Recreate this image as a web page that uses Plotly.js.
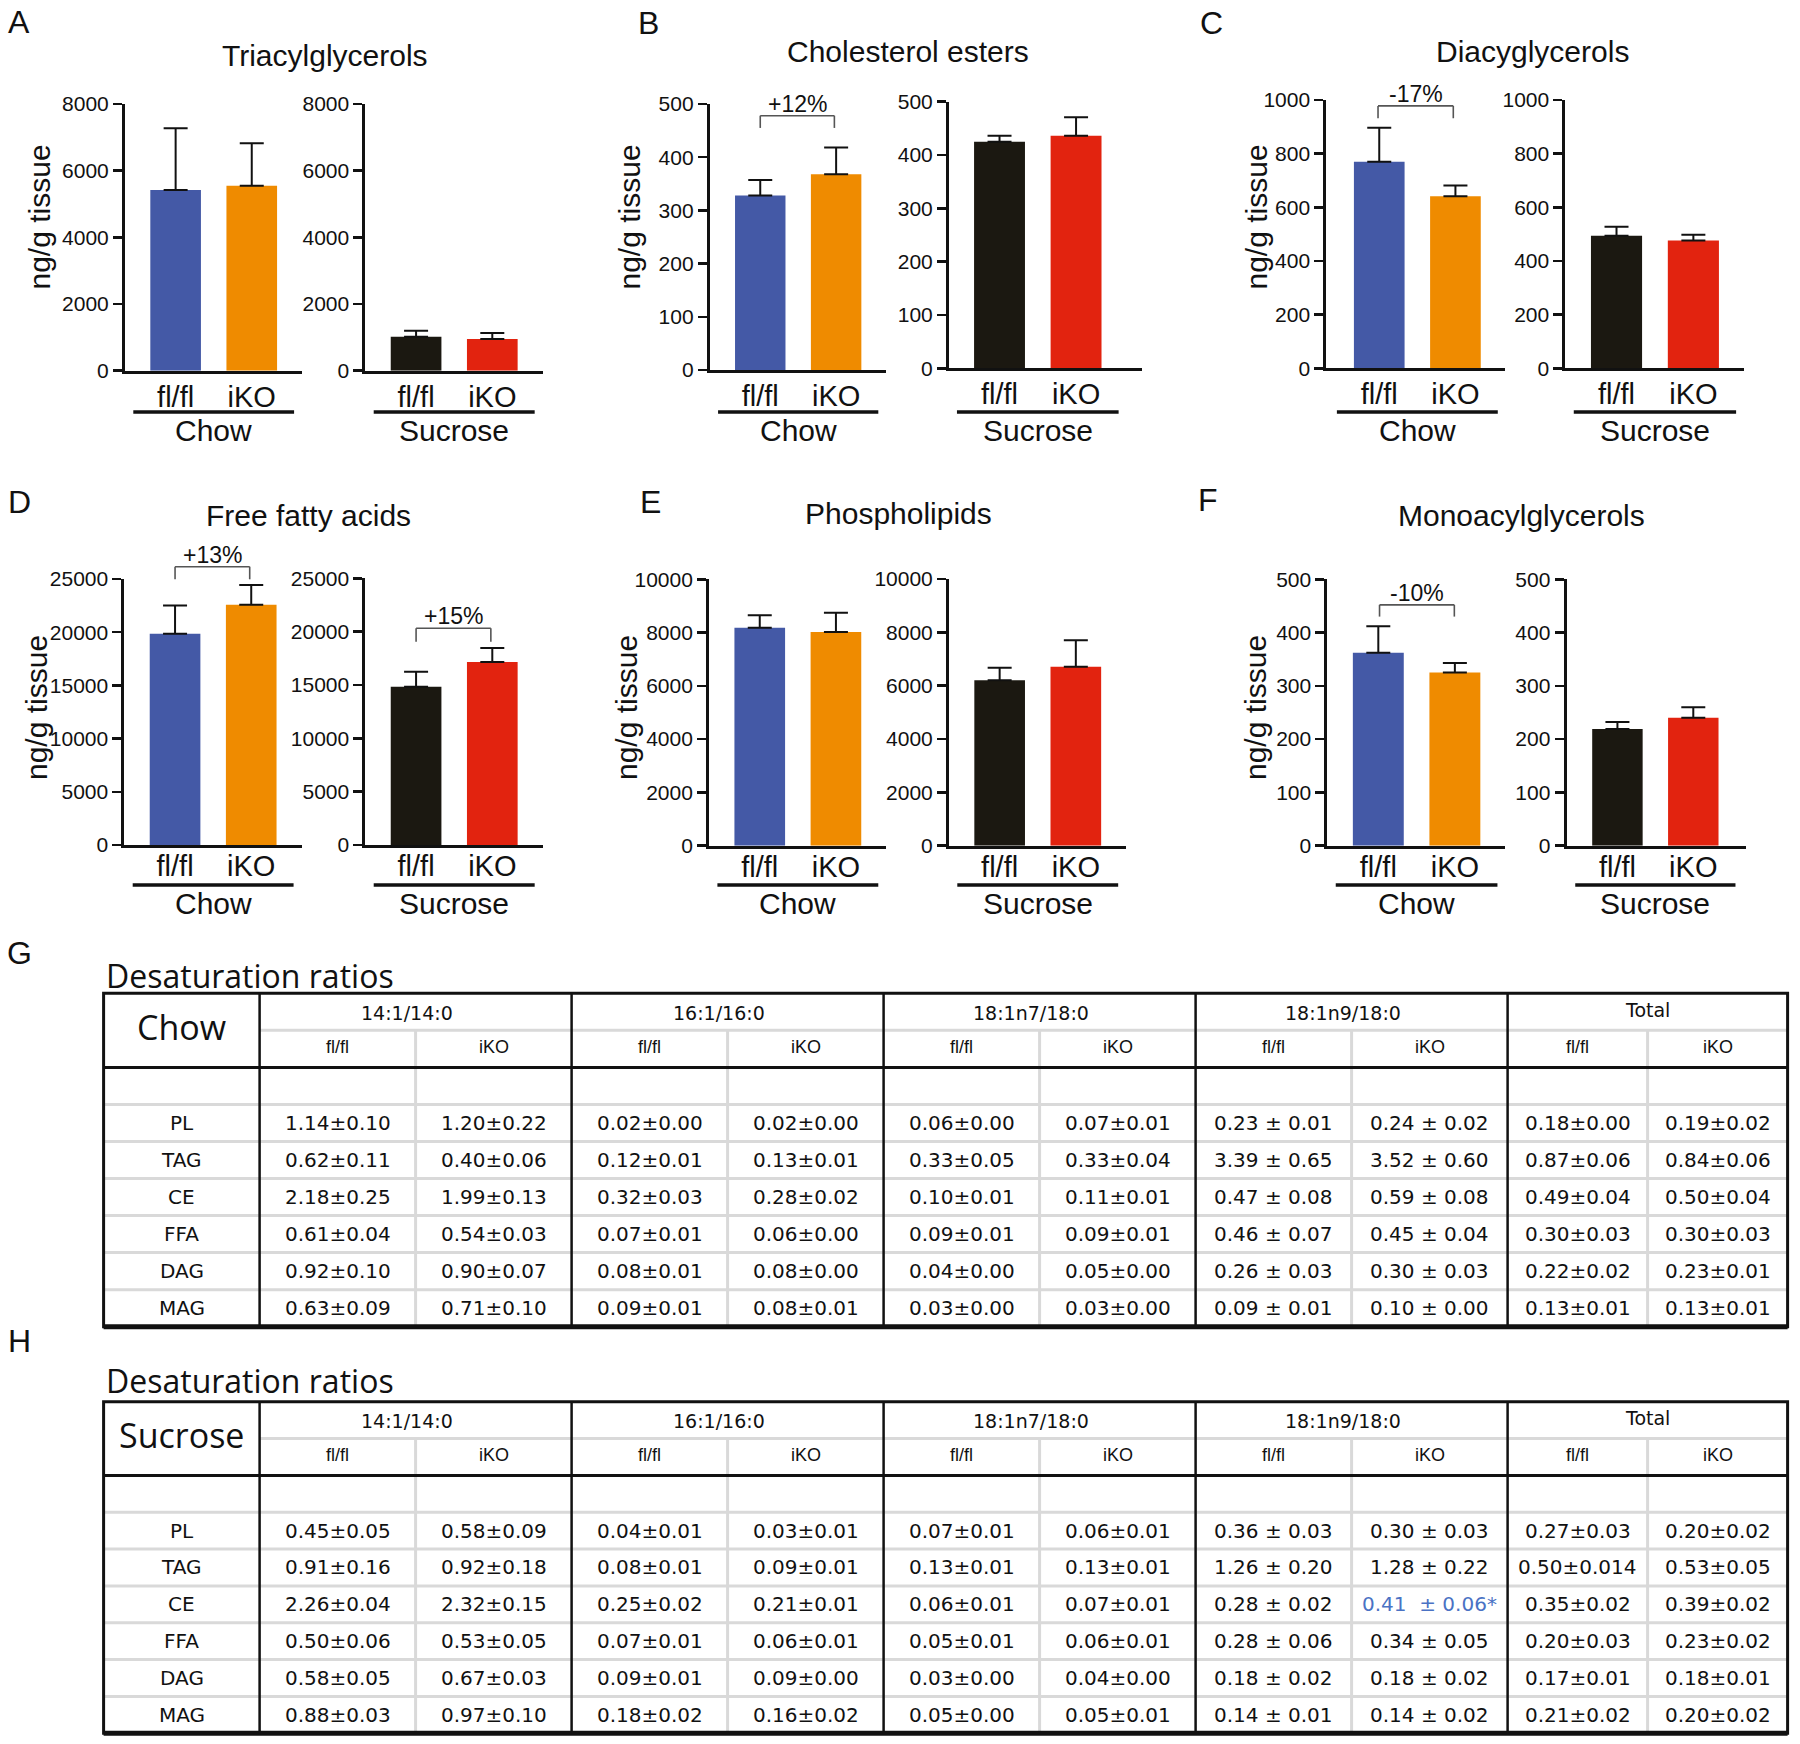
<!DOCTYPE html>
<html><head><meta charset="utf-8">
<script src="https://cdn.plot.ly/plotly-3.0.1.min.js"></script>
<style>body{margin:0;background:#fff}#chart{width:1800px;height:1744px}</style>
</head><body><div id="chart"></div>
<script>
// ================= DATA =================
const genotypes = ['fl/fl', 'iKO'];
const diets = ['Chow', 'Sucrose'];
const lipidTitles = ['Triacylglycerols', 'Cholesterol esters', 'Diacyglycerols', 'Free fatty acids', 'Phospholipids', 'Monoacylglycerols'];
const panelLetters = ['A', 'B', 'C', 'D', 'E', 'F'];
const yTickVals = [
  [0, 2000, 4000, 6000, 8000],
  [0, 100, 200, 300, 400, 500],
  [0, 200, 400, 600, 800, 1000],
  [0, 5000, 10000, 15000, 20000, 25000],
  [0, 2000, 4000, 6000, 8000, 10000],
  [0, 100, 200, 300, 400, 500]
];
const yAxisTitle = 'ng/g tissue';

// means and (upper) SEM, ng/g tissue : [fl/fl, iKO]
const tagChow = [5420, 5550],   tagChowErr = [1850, 1270];
const tagSucrose = [1020, 950], tagSucroseErr = [180, 180];
const ceChow = [328, 368],      ceChowErr = [29, 50];
const ceSucrose = [425, 436],   ceSucroseErr = [11, 35];
const dagChow = [770, 641],     dagChowErr = [127, 40];
const dagSucrose = [494, 476],  dagSucroseErr = [34, 22];
const ffaChow = [19860, 22590], ffaChowErr = [2660, 1850];
const ffaSucrose = [14840, 17160], ffaSucroseErr = [1410, 1310];
const plChow = [8185, 8020],    plChowErr = [465, 725];
const plSucrose = [6200, 6710], plSucroseErr = [475, 990];
const magChow = [362, 325],     magChowErr = [50, 18];
const magSucrose = [219, 240],  magSucroseErr = [13, 20];

const changeLabels = ['+12%', '-17%', '+13%', '+15%', '-10%'];

// Desaturation ratio tables
const tableLetters = ['G', 'H'];
const tableTitle = 'Desaturation ratios';
const ratioGroups = ['14:1/14:0', '16:1/16:0', '18:1n7/18:0', '18:1n9/18:0', 'Total'];
const lipidClasses = ['PL', 'TAG', 'CE', 'FFA', 'DAG', 'MAG'];
const chowTable = [
  ['1.14±0.10', '1.20±0.22', '0.02±0.00', '0.02±0.00', '0.06±0.00', '0.07±0.01', '0.23 ± 0.01', '0.24 ± 0.02', '0.18±0.00', '0.19±0.02'],
  ['0.62±0.11', '0.40±0.06', '0.12±0.01', '0.13±0.01', '0.33±0.05', '0.33±0.04', '3.39 ± 0.65', '3.52 ± 0.60', '0.87±0.06', '0.84±0.06'],
  ['2.18±0.25', '1.99±0.13', '0.32±0.03', '0.28±0.02', '0.10±0.01', '0.11±0.01', '0.47 ± 0.08', '0.59 ± 0.08', '0.49±0.04', '0.50±0.04'],
  ['0.61±0.04', '0.54±0.03', '0.07±0.01', '0.06±0.00', '0.09±0.01', '0.09±0.01', '0.46 ± 0.07', '0.45 ± 0.04', '0.30±0.03', '0.30±0.03'],
  ['0.92±0.10', '0.90±0.07', '0.08±0.01', '0.08±0.00', '0.04±0.00', '0.05±0.00', '0.26 ± 0.03', '0.30 ± 0.03', '0.22±0.02', '0.23±0.01'],
  ['0.63±0.09', '0.71±0.10', '0.09±0.01', '0.08±0.01', '0.03±0.00', '0.03±0.00', '0.09 ± 0.01', '0.10 ± 0.00', '0.13±0.01', '0.13±0.01']
];
const sucroseTable = [
  ['0.45±0.05', '0.58±0.09', '0.04±0.01', '0.03±0.01', '0.07±0.01', '0.06±0.01', '0.36 ± 0.03', '0.30 ± 0.03', '0.27±0.03', '0.20±0.02'],
  ['0.91±0.16', '0.92±0.18', '0.08±0.01', '0.09±0.01', '0.13±0.01', '0.13±0.01', '1.26 ± 0.20', '1.28 ± 0.22', '0.50±0.014', '0.53±0.05'],
  ['2.26±0.04', '2.32±0.15', '0.25±0.02', '0.21±0.01', '0.06±0.01', '0.07±0.01', '0.28 ± 0.02', '0.41  ± 0.06*', '0.35±0.02', '0.39±0.02'],
  ['0.50±0.06', '0.53±0.05', '0.07±0.01', '0.06±0.01', '0.05±0.01', '0.06±0.01', '0.28 ± 0.06', '0.34 ± 0.05', '0.20±0.03', '0.23±0.02'],
  ['0.58±0.05', '0.67±0.03', '0.09±0.01', '0.09±0.00', '0.03±0.00', '0.04±0.00', '0.18 ± 0.02', '0.18 ± 0.02', '0.17±0.01', '0.18±0.01'],
  ['0.88±0.03', '0.97±0.10', '0.18±0.02', '0.16±0.02', '0.05±0.00', '0.05±0.01', '0.14 ± 0.01', '0.14 ± 0.02', '0.21±0.02', '0.20±0.02']
];
const sucroseSignificant = [[2, 7]]; // [row, column] highlighted in blue

// ================= STYLE / LAYOUT =================
const W = 1800, H = 1744;
const px = v => v / W;
const py = v => 1 - v / H;
const INK = '#111111';
const FONT = 'Liberation Sans, Arial, Helvetica, sans-serif';
const HUM = 'Open Sans, Noto Sans, sans-serif';
const WIDE = 'DejaVu Sans, sans-serif';
const dietColors = [['#4459a6', '#ef8b00'], ['#1b1811', '#e2230f']];

const panelValues = [
  [tagChow, tagChowErr, tagSucrose, tagSucroseErr],
  [ceChow, ceChowErr, ceSucrose, ceSucroseErr],
  [dagChow, dagChowErr, dagSucrose, dagSucroseErr],
  [ffaChow, ffaChowErr, ffaSucrose, ffaSucroseErr],
  [plChow, plChowErr, plSucrose, plSucroseErr],
  [magChow, magChowErr, magSucrose, magSucroseErr]
];

// pixel geometry of each panel (left = chow, right = sucrose)
const geom = [
  {lx: [125, 302], rx: [365.4, 542.6], ly: [104, 370.7], ry: [104, 370.7], title: [325, 55], letter: [19, 22], yt: [39, 217.5], row: 0},
  {lx: [709.8, 886.2], rx: [949, 1141.5], ly: [104, 370], ry: [101.7, 368.3], title: [908, 52], letter: [648, 23], yt: [629, 217.5], row: 0, rr: [-0.66, 1.855]},
  {lx: [1326.3, 1505.4], rx: [1565.4, 1744.1], ly: [100, 368.3], ry: [100, 368.3], title: [1532, 52], letter: [1211, 23], yt: [1256, 217.5], row: 0, lr: [-0.695, 1.656]},
  {lx: [124.4, 301.5], rx: [365.4, 542.6], ly: [579, 845], ry: [578.3, 845], title: [308, 515], letter: [19, 502], yt: [37, 708], row: 1},
  {lx: [709.1, 886.2], rx: [949, 1126.1], ly: [579.3, 845.7], ry: [579, 845.7], title: [898, 513], letter: [650, 502], yt: [627, 708], row: 1},
  {lx: [1327.4, 1505.4], rx: [1566.6, 1746.4], ly: [579.3, 845.7], ry: [579.3, 845.7], title: [1521, 515], letter: [1208, 500], yt: [1256, 708], row: 1, rr: [-0.67, 1.70]}
];
const rowUnderlineY = [412, 885];
const rowDietLabelY = [430, 903];
const rowTickStandoff = [-2, -7];
// brackets: panel, diet side, x0, x1 (category units), top & leg (data units)
const bracketGeom = [
  {p: 1, d: 0, x0: 0, x1: 0.977, top: 478, leg: 455},
  {p: 2, d: 0, x0: -0.016, x1: 0.972, top: 978, leg: 932},
  {p: 3, d: 0, x0: 0, x1: 0.98, top: 26156, leg: 24972},
  {p: 3, d: 1, x0: 0, x1: 0.981, top: 20313, leg: 19056},
  {p: 5, d: 0, x0: 0.016, x1: 0.993, top: 452, leg: 430}
];

const data = [];
const layout = {
  width: W, height: H, margin: {l: 0, r: 0, t: 0, b: 0},
  paper_bgcolor: '#ffffff', plot_bgcolor: 'rgba(0,0,0,0)',
  showlegend: false, bargap: 0.335,
  font: {family: FONT, color: INK},
  annotations: [], shapes: []
};
const axName = i => (i === 1 ? '' : String(i));
const xRanges = {};
const yMaxes = {};

for (let p = 0; p < 6; p++) {
  const g = geom[p];
  const vals = panelValues[p];
  const ticks = yTickVals[p];
  const ymax = ticks[ticks.length - 1];
  for (let d = 0; d < 2; d++) {
    const i = p * 2 + d + 1;
    const xa = 'x' + axName(i), ya = 'y' + axName(i);
    const dom = d ? g.rx : g.lx;
    const yd = d ? g.ry : g.ly;
    const xr = (d ? g.rr : g.lr) || [-0.665, 1.66];
    xRanges[i] = xr; yMaxes[i] = ymax;
    data.push({
      type: 'bar', x: [0, 1], y: vals[d * 2], xaxis: xa, yaxis: ya,
      marker: {color: dietColors[d], line: {width: 0}},
      error_y: {type: 'data', symmetric: false, array: vals[d * 2 + 1], arrayminus: [0, 0],
        color: INK, thickness: 2, width: 12},
      hoverinfo: 'skip'
    });
    layout['xaxis' + axName(i)] = {
      domain: [px(dom[0]), px(dom[1])], anchor: ya, range: xr,
      tickvals: [0, 1], ticktext: genotypes,
      showline: true, linecolor: INK, linewidth: 3,
      ticks: '', ticklabelstandoff: rowTickStandoff[g.row],
      tickfont: {size: 29, family: FONT, color: INK},
      showgrid: false, zeroline: false, fixedrange: true
    };
    layout['yaxis' + axName(i)] = {
      domain: [py(yd[1]), py(yd[0])], anchor: xa, range: [0, ymax],
      tickvals: ticks, tickformat: 'd', ticks: 'outside', ticklen: 9, tickwidth: 2.5, tickcolor: INK,
      showline: true, linecolor: INK, linewidth: 3,
      tickfont: {size: 21, family: FONT, color: INK},
      showgrid: false, zeroline: false, fixedrange: true
    };
    // diet grouping line and label (x given in category units, via domain fraction)
    const fx = v => (v - xr[0]) / (xr[1] - xr[0]);
    layout.shapes.push({type: 'line', xref: xa + ' domain', yref: 'paper',
      x0: fx(-0.556), x1: fx(1.556), y0: py(rowUnderlineY[g.row]), y1: py(rowUnderlineY[g.row]),
      line: {color: INK, width: 3.5}});
    layout.annotations.push({xref: xa + ' domain', yref: 'paper', x: fx(0.5), y: py(rowDietLabelY[g.row]),
      text: diets[d], showarrow: false, xanchor: 'center', yanchor: 'middle',
      font: {size: 30, family: FONT, color: INK}});
  }
  // panel title, letter, y title
  layout.annotations.push({xref: 'paper', yref: 'paper', x: px(g.title[0]), y: py(g.title[1]),
    text: lipidTitles[p], showarrow: false, xanchor: 'center', yanchor: 'middle',
    font: {size: 30, family: FONT, color: INK}});
  layout.annotations.push({xref: 'paper', yref: 'paper', x: px(g.letter[0]), y: py(g.letter[1]),
    text: panelLetters[p], showarrow: false, xanchor: 'center', yanchor: 'middle',
    font: {size: 32, family: FONT, color: INK}});
  layout.annotations.push({xref: 'paper', yref: 'paper', x: px(g.yt[0]), y: py(g.yt[1]),
    text: yAxisTitle, textangle: -90, showarrow: false, xanchor: 'center', yanchor: 'middle',
    font: {size: 30, family: FONT, color: INK}});
}

// change brackets
bracketGeom.forEach((b, k) => {
  const i = b.p * 2 + b.d + 1;
  const xa = 'x' + axName(i), ya = 'y' + axName(i);
  const xr = xRanges[i], ym = yMaxes[i];
  const fx = v => (v - xr[0]) / (xr[1] - xr[0]);
  const fy = v => v / ym;
  const ln = {color: '#555555', width: 1.6};
  const base = {type: 'line', xref: xa + ' domain', yref: ya + ' domain', line: ln};
  layout.shapes.push(Object.assign({}, base, {x0: fx(b.x0), x1: fx(b.x1), y0: fy(b.top), y1: fy(b.top)}));
  layout.shapes.push(Object.assign({}, base, {x0: fx(b.x0), x1: fx(b.x0), y0: fy(b.top), y1: fy(b.leg)}));
  layout.shapes.push(Object.assign({}, base, {x0: fx(b.x1), x1: fx(b.x1), y0: fy(b.top), y1: fy(b.leg)}));
  layout.annotations.push({xref: xa + ' domain', yref: ya + ' domain', x: fx((b.x0 + b.x1) / 2), y: fy(b.top),
    text: changeLabels[k], showarrow: false, xanchor: 'center', yanchor: 'bottom', yshift: -3,
    font: {size: 23, family: FONT, color: INK}});
});

// ================= TABLES =================
const colW = [156, 156, 156, 156, 156, 156, 156, 156, 156, 140, 140];
const bounds = [0];
colW.forEach(w => bounds.push(bounds[bounds.length - 1] + w));
const TW = bounds[bounds.length - 1];
const tableGeom = [
  {left: 103.6, top: 993.3, bottom: 1326.7, titleY: 975, letterY: 953},
  {left: 103.6, top: 1401.7, bottom: 1733.3, titleY: 1380, letterY: 1341}
];
const tableRows = [chowTable, sucroseTable];
const GRAY = '#d9d9d9';

tableGeom.forEach((t, k) => {
  const i = 13 + k;
  const xa = 'x' + i, ya = 'y' + i;
  const rowH = (t.bottom - t.top) / 9;
  const padX = 6, padY = 0.25;
  layout['xaxis' + i] = {domain: [px(t.left - padX), px(t.left + TW + padX)], range: [-padX, TW + padX],
    anchor: ya, visible: false, fixedrange: true};
  layout['yaxis' + i] = {domain: [py(t.bottom + padY * rowH), py(t.top - padY * rowH)], range: [9 + padY, -padY],
    anchor: xa, visible: false, fixedrange: true};
  data.push({type: 'scatter', x: [0], y: [0], xaxis: xa, yaxis: ya, mode: 'markers',
    marker: {opacity: 0}, hoverinfo: 'skip'});
  const L = (x0, y0, x1, y1, color, width) => layout.shapes.push({type: 'line', xref: xa, yref: ya,
    x0, y0, x1, y1, line: {color, width}});
  // light grid
  for (let r = 3; r <= 8; r++) L(0, r, TW, r, GRAY, 3);
  L(bounds[1], 1, TW, 1, GRAY, 3);
  [2, 4, 6, 8, 10].forEach(c => L(bounds[c], 1, bounds[c], 9, GRAY, 3));
  // dark grid
  [1, 3, 5, 7, 9].forEach(c => L(bounds[c], 0, bounds[c], 9, INK, 2.5));
  L(0, 2, TW, 2, INK, 3);
  layout.shapes.push({type: 'rect', xref: xa, yref: ya, x0: 0, x1: TW, y0: 0, y1: 9, line: {color: INK, width: 3}});
  L(0, 9, TW, 9, INK, 5);

  const A = (x, y, text, size, family, color, extra) => layout.annotations.push(Object.assign({
    xref: xa, yref: ya, x, y, text, showarrow: false, xanchor: 'center', yanchor: 'middle',
    font: {size, family, color: color || INK}}, extra || {}));
  // title and letter
  layout.annotations.push({xref: 'paper', yref: 'paper', x: px(104), y: py(t.titleY), text: tableTitle,
    showarrow: false, xanchor: 'left', yanchor: 'middle', font: {size: 32, family: HUM, color: INK}});
  layout.annotations.push({xref: 'paper', yref: 'paper', x: px(19.5), y: py(t.letterY), text: tableLetters[k],
    showarrow: false, xanchor: 'center', yanchor: 'middle', font: {size: 32, family: FONT, color: INK}});
  // headers
  A((bounds[0] + bounds[1]) / 2, 0.9, diets[k], 34, HUM);
  ratioGroups.forEach((gname, gi) => {
    const cx = (bounds[1 + 2 * gi] + bounds[3 + 2 * gi]) / 2;
    A(cx, gi < 4 ? 0.52 : 0.45, gname, 19, WIDE, INK, {xshift: gi < 4 ? -9 : 0});
    genotypes.forEach((gt, j) => {
      const c = 1 + 2 * gi + j;
      A((bounds[c] + bounds[c + 1]) / 2, 1.45, gt, 18, FONT);
    });
  });
  // body
  lipidClasses.forEach((lc, r) => {
    A((bounds[0] + bounds[1]) / 2, r + 3.5, lc, 20, WIDE);
    tableRows[k][r].forEach((val, c) => {
      const sig = k === 1 && sucroseSignificant.some(s => s[0] === r && s[1] === c);
      A((bounds[c + 1] + bounds[c + 2]) / 2, r + 3.5, val, 20, WIDE, sig ? '#4a72c4' : INK);
    });
  });
});

Plotly.newPlot('chart', data, layout, {staticPlot: true, displayModeBar: false});
</script>
</body></html>
